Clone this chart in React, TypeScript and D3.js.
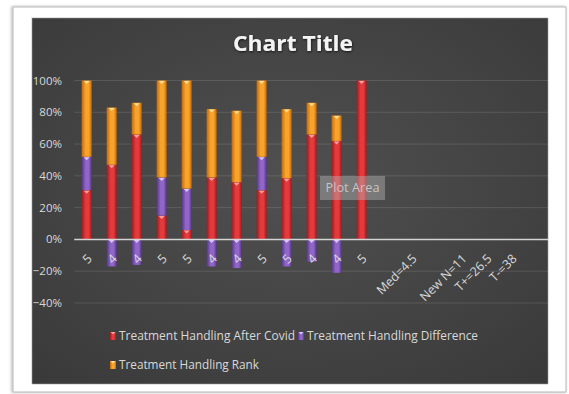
import React from "react";
import * as d3 from "d3";

const categories = ["5", "4", "4", "5", "5", "4", "4", "5", "5", "4", "4", "5", "", "Med=4.5", "", "New N=11", "T+=26.5", "T-=38", ""];
const afterCovid = [0.31, 0.47, 0.66, 0.15, 0.06, 0.39, 0.36, 0.31, 0.385, 0.66, 0.62, 1.0, 0, 0, 0, 0, 0, 0, 0];
const difference = [0.21, -0.17, -0.16, 0.24, 0.26, -0.17, -0.18, 0.21, -0.17, -0.14, -0.21, 0, 0, 0, 0, 0, 0, 0, 0];
const rank = [0.48, 0.36, 0.2, 0.61, 0.68, 0.43, 0.45, 0.48, 0.435, 0.2, 0.16, 0, 0, 0, 0, 0, 0, 0, 0];
const seriesNames = ["Treatment Handling After Covid", "Treatment Handling Difference", "Treatment Handling Rank"];
const yTicks = [-0.4, -0.2, 0, 0.2, 0.4, 0.6, 0.8, 1.0];

const W = 569;
const H = 394;
const plotL = 74.2;
const plotR = 549;
const FONT = "'Open Sans', 'Noto Sans', sans-serif";

const palette = [
  { dark: "#9e1a21", bright: "#e43a3b", tip: "#ffb0b0" },
  { dark: "#543685", bright: "#9066c8", tip: "#e6d4ff" },
  { dark: "#c46a0c", bright: "#f8a42c", tip: "#ffe6a8" },
];

export default function App() {
  const rows = categories.map((c, i) => ({
    idx: i,
    a: afterCovid[i],
    d: difference[i],
    r: rank[i],
  }));
  const keys = ["a", "d", "r"];
  const stacked = d3
    .stack<any>()
    .keys(keys)
    .offset(d3.stackOffsetDiverging)(rows);

  const x = d3
    .scaleBand<number>()
    .domain(categories.map((_, i) => i))
    .range([plotL, plotR])
    .paddingInner(0.6)
    .paddingOuter(0.3);
  const y = d3.scaleLinear().domain([-0.4, 1.0]).range([303, 80.5]);
  const bw = x.bandwidth();
  const fmt = d3.format(".0%");

  const legendItems = [
    { s: 0, x: 110, y: 336, w: 176 },
    { s: 1, x: 298, y: 336, w: 171 },
    { s: 2, x: 110, y: 365, w: 140 },
  ];

  return (
    <svg
      width={W}
      height={H}
      style={{ position: "absolute", left: 0, top: 0, background: "#ffffff" }}
    >
      <defs>
        {palette.map((p, i) => (
          <linearGradient key={i} id={`g${i}`} x1="0" x2="1" y1="0" y2="0">
            <stop offset="0" stopColor={p.dark} />
            <stop offset="0.4" stopColor={p.bright} />
            <stop offset="0.7" stopColor={p.bright} />
            <stop offset="1" stopColor={p.dark} />
          </linearGradient>
        ))}
        <radialGradient id="bg" cx="0.5" cy="0.45" r="0.75">
          <stop offset="0" stopColor="#505050" />
          <stop offset="1" stopColor="#393939" />
        </radialGradient>
        <filter id="frameShadow" x="-5%" y="-5%" width="110%" height="110%">
          <feDropShadow dx="-1" dy="0" stdDeviation="1.5" floodColor="#888" floodOpacity="0.6" />
        </filter>
        <filter id="titleShadow" x="-10%" y="-30%" width="120%" height="160%">
          <feDropShadow dx="0.5" dy="1" stdDeviation="1" floodColor="#000" floodOpacity="0.7" />
        </filter>
      </defs>

      {/* outer frame */}
      <rect x={13} y={7} width={553} height={385} fill="#ffffff" stroke="#c4c4c4" strokeWidth={1.2} filter="url(#frameShadow)" />
      {/* chart area */}
      <rect x={32} y={18} width={516} height={366} fill="url(#bg)" stroke="#9a9a9a" strokeWidth={0.6} />

      {/* title */}
      <text
        x={293}
        y={51}
        textAnchor="middle"
        fontFamily={FONT}
        fontWeight="bold"
        fontSize={21}
        fill="#f4f4f4"
        textLength={120}
        lengthAdjust="spacingAndGlyphs"
        filter="url(#titleShadow)"
      >
        Chart Title
      </text>

      {/* gridlines */}
      {yTicks.filter((t) => t !== 0).map((t) => (
        <line key={t} x1={plotL} x2={plotR - 1} y1={y(t)} y2={y(t)} stroke="#ffffff" strokeOpacity={0.12} strokeWidth={1} />
      ))}

      {/* y labels */}
      {yTicks.map((t) => (
        <text
          key={t}
          x={62}
          y={y(t)}
          dy="0.35em"
          textAnchor="end"
          fontFamily={FONT}
          fontSize={11.5}
          fill="#d9d9d9"
        >
          {fmt(t)}
        </text>
      ))}

      {/* bars */}
      {stacked.map((layer, si) =>
        layer.map((seg, i) => {
          const v0 = seg[0];
          const v1 = seg[1];
          if (Math.abs(v1 - v0) < 1e-9) return null;
          const top = y(Math.max(v0, v1));
          const bot = y(Math.min(v0, v1));
          const bx = x(i)!;
          const cx = bx + bw / 2;
          return (
            <g key={`${si}-${i}`}>
              <rect x={bx} y={top} width={bw} height={bot - top} fill={`url(#g${si})`} />
              <polygon
                points={`${cx - 3},${top + 0.5} ${cx + 3},${top + 0.5} ${cx},${top + 3.5}`}
                fill={palette[si].tip}
                opacity={0.85}
              />
            </g>
          );
        })
      )}

      {/* zero line */}
      <line x1={plotL} x2={plotR - 1} y1={y(0)} y2={y(0)} stroke="#d4d4d4" strokeWidth={1.5} />

      {/* category labels */}
      {categories.map((c, i) =>
        c ? (
          <text
            key={i}
            transform={`translate(${x(i)! + bw / 2 + 3},${y(0) + 17}) rotate(-45)`}
            dy="0.35em"
            textAnchor="end"
            fontFamily={FONT}
            fontSize={12.5}
            fill="#d9d9d9"
          >
            {c}
          </text>
        ) : null
      )}

      {/* Plot Area tooltip */}
      <rect x={320} y={176} width={65} height={24} fill="#b4b4b4" fillOpacity={0.45} />
      <text x={352.5} y={188} dy="0.35em" textAnchor="middle" fontFamily={FONT} fontSize={12} fill="#c4c4c4" textLength={54} lengthAdjust="spacingAndGlyphs">
        Plot Area
      </text>

      {/* legend */}
      {legendItems.map((it) => (
        <g key={it.s}>
          <rect x={it.x} y={it.y - 4} width={6} height={8} fill={`url(#g${it.s})`} />
          <polygon
            points={`${it.x + 0.5},${it.y - 4} ${it.x + 5.5},${it.y - 4} ${it.x + 3},${it.y - 1.5}`}
            fill={palette[it.s].tip}
            opacity={0.85}
          />
          <text
            x={it.x + 9}
            y={it.y}
            dy="0.35em"
            fontFamily={FONT}
            fontSize={12}
            fill="#d9d9d9"
            textLength={it.w}
            lengthAdjust="spacingAndGlyphs"
          >
            {seriesNames[it.s]}
          </text>
        </g>
      ))}
    </svg>
  );
}
